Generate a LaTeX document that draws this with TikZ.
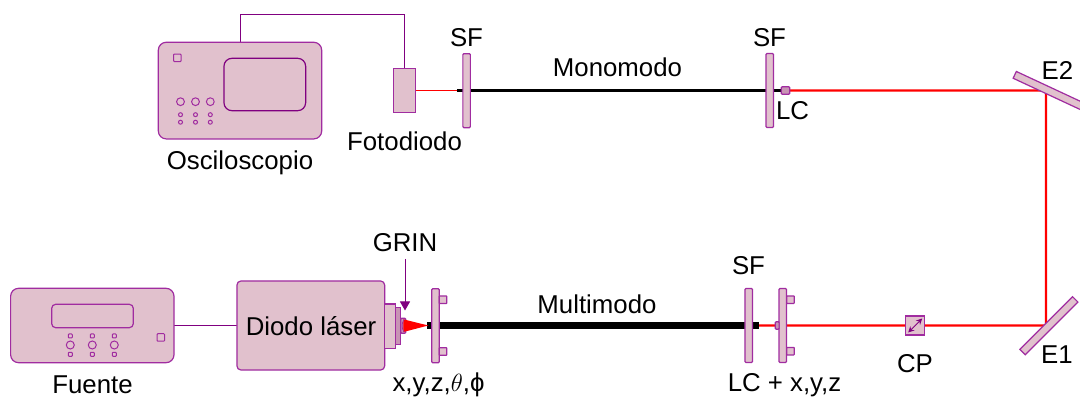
\documentclass[tikz,border=0pt]{standalone}
\usepackage{fontspec}
\setmainfont{Liberation Sans}
\usetikzlibrary{arrows.meta,backgrounds,calc}
\definecolor{partfill}{HTML}{E1C1CD}
\definecolor{partdark}{HTML}{C893B4}
\definecolor{partline}{HTML}{A02CA0}
\definecolor{wirecol}{HTML}{800080}
\definecolor{beamred}{HTML}{FF0000}
\tikzset{
  part/.style={draw=partline,fill=partfill,line width=1.2pt,inner sep=0pt,outer sep=0pt,rectangle},
  dev/.style={part,rounded corners=8pt},
  plate/.style={part,minimum width=7.5pt,minimum height=74pt,rounded corners=1pt},
  tab/.style={part,minimum width=7.5pt,minimum height=7.5pt,rounded corners=.5pt},
  mirror/.style={part,minimum width=74.5pt,minimum height=7.5pt},
  knob/.style={draw=partline,line width=1pt,circle,inner sep=0pt,outer sep=0pt},
  key/.style={draw=partline,line width=1pt,rectangle,rounded corners=.8pt,inner sep=0pt,outer sep=0pt},
  lbl/.style={inner sep=0pt,outer sep=0pt,text=black,font=\fontsize{25.8}{30}\selectfont},
  wire/.style={draw=wirecol,line width=1pt},
  beam/.style={draw=beamred,line width=2.3pt},
  thinbeam/.style={draw=beamred,line width=1pt},
  fibre/.style={draw=black,line width=3pt},
  fatfibre/.style={draw=black,line width=7.6pt},
}
\begin{document}
\begin{tikzpicture}[x=1pt,y=-1pt]
\clip (0,0) rectangle (1080,398);
% Oscilloscope
\node[dev,minimum width=163.4pt,minimum height=96.7pt] (osc) at (240,90.6) {};
\node[dev,fill=none,draw=wirecol,minimum width=81.7pt,minimum height=52.4pt] (oscscreen) at (264.8,84.5) {};
\node[key,minimum width=7.5pt,minimum height=7.5pt] (oscpow) at (177.3,57.8) {};
\foreach \n/\x in {a/180.5,b/195.5,c/210.3}{
  \node[knob,minimum size=7.8pt] (osck\n) at (\x,101.7) {};
  \node[knob,minimum size=4pt] (oscs\n) at (\x,114.7) {};
  \node[knob,minimum size=4pt] (osct\n) at (\x,122.2) {};
}
\node[lbl] (osclabel) at (240,163) {Osciloscopio};
% Photodiode
\node[part,minimum width=22pt,minimum height=44.4pt] (pd) at (404.3,90.5) {};
\node[lbl] (pdlabel) at (404.5,141) {Fotodiodo};
% Top fibre
\node[plate] (sfa) at (466.6,90.7) {};
\node[plate] (sfb) at (769.8,90.5) {};
\node[part,fill=partdark,minimum width=8.4pt,minimum height=7.6pt,rounded corners=1pt] (lct) at (785.5,90.5) {};
\coordinate (fa) at (457,90.5);
\node[lbl] (sfal) at (466.5,38) {SF};
\node[lbl] (sfbl) at (769.5,38) {SF};
\node[lbl] (monol) at (617.5,67) {Monomodo};
\node[lbl] (lcl) at (792.5,111) {LC};
% Mirrors and beam turning points
\node[mirror,rotate=-25] (e2) at (1048.5,90.6) {};
\node[mirror,rotate=45] (e1) at (1048.9,325.7) {};
\coordinate (te2) at (1046,90.5);
\coordinate (te1) at (1046,325.6);
\node[lbl] (e2l) at (1057.5,70) {E2};
\node[lbl] (e1l) at (1057,355) {E1};
% Source
\node[dev,minimum width=163.4pt,minimum height=74.4pt] (fu) at (92.3,325.5) {};
\node[dev,rounded corners=4pt,fill=none,minimum width=81.6pt,minimum height=23.4pt] (fudisp) at (92.5,316) {};
\node[key,minimum width=7.5pt,minimum height=7.5pt] (fupow) at (160.8,337.5) {};
\foreach \n/\x in {a/70.3,b/92.3,c/114.3}{
  \node[key,minimum size=4pt] (fus\n) at (\x,336) {};
  \node[knob,minimum size=8pt] (fuk\n) at (\x,345) {};
  \node[key,minimum size=4pt] (fut\n) at (\x,354.3) {};
}
\node[lbl] (fulabel) at (92.5,385) {Fuente};
% Laser
\node[part,rounded corners=4pt,minimum width=147.7pt,minimum height=89pt] (ld) at (310.8,325.5) {};
\node[lbl] (ldlabel) at (311,326) {Diodo láser};
\node[part,minimum width=11pt,minimum height=44.3pt] (ldb) at (390.2,326.1) {};
\node[part,fill=partdark,minimum width=5pt,minimum height=37pt] (ldc) at (398.2,325.8) {};
\node[part,fill=partdark,minimum width=5pt,minimum height=15pt,rounded corners=1pt] (grin) at (403.2,325.8) {};
\fill[beamred] (403.3,319.3) -- (428.3,325.5) -- (403.3,332) -- cycle;
\draw[partline,line width=.7pt] (404,319.5) .. controls (401.5,323) and (401.5,328.5) .. (404,332);
\node[lbl] (grinl) at (405,243) {GRIN};
\coordinate (grint) at (405,259);
\coordinate (grinh) at (405,310.5);
% Launch stage
\node[plate] (sl) at (435.5,325.7) {};
\node[tab] (sla) at (443,299.7) {};
\node[tab] (slb) at (443,351.5) {};
\node[lbl] (sll) at (438.5,385) {x,y,z,$\theta$,ϕ};
\node[lbl] (mml) at (597,304) {Multimodo};
\coordinate (fl) at (427,325.5);
\coordinate (fr) at (758.7,325.5);
% Output stage
\node[plate] (sc) at (748.7,325.5) {};
\node[plate] (sr) at (782.8,325.5) {};
\node[tab] (sra) at (790.4,299.7) {};
\node[tab] (srb) at (790.4,351.2) {};
\node[part,fill=partdark,minimum width=3.8pt,minimum height=7.6pt,rounded corners=1pt] (lcb) at (777.2,325.5) {};
\node[lbl] (scl) at (748.5,266) {SF};
\node[lbl] (srl) at (784.5,385) {LC + x,y,z};
% Polariser
\node[part,minimum width=19pt,minimum height=19pt] (cp) at (915.2,325.5) {};
\draw[wirecol,line width=1pt,{Stealth[length=6pt,width=6pt]}-{Stealth[length=6pt,width=6pt]}] ($(cp.south west)+(2.5,-2.5)$) -- ($(cp.north east)+(-2.5,2.5)$);
\node[lbl] (cpl) at (915,364) {CP};
% Arrow and connectors
\draw[wire,-{Triangle[length=9pt,width=10pt]}] (grint) -- (grinh);
\begin{scope}[on background layer]
  \fill[white] (0,0) rectangle (1080,398);
  \draw[wire] (osc.north) |- (404.3,14.5) -- (pd.north);
  \draw[thinbeam] (pd.east) -- (fa);
  \draw[fibre] (fa) -- (lct.west);
  \draw[beam] (lct.east) -- (te2) -- (te1) -- (fr);
  \draw[fatfibre] (fl) -- (fr);
  \draw[wire] (fu.east) -- (ld.west);
\end{scope}
\end{tikzpicture}
\end{document}
